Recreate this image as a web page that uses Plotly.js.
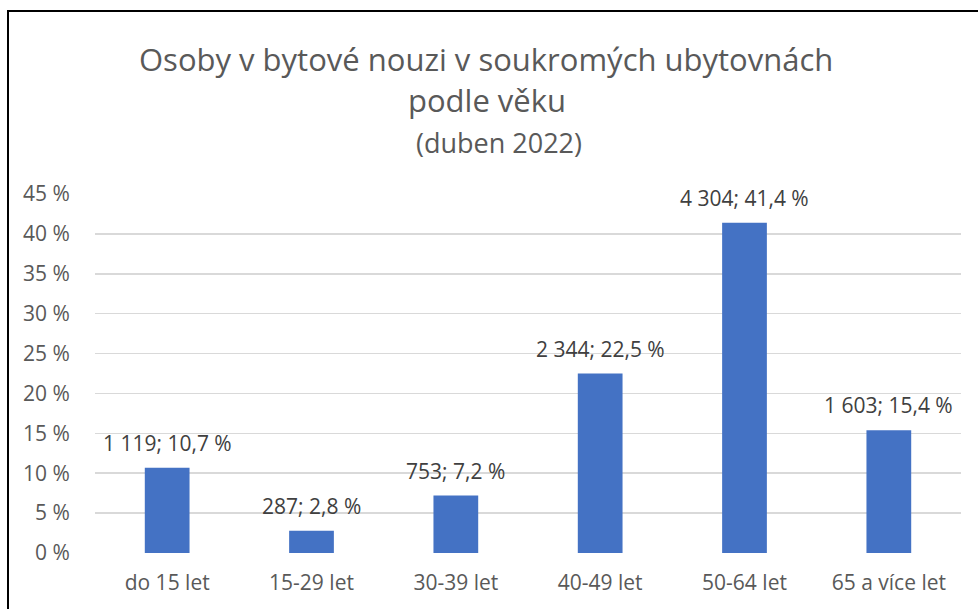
<!DOCTYPE html>
<html>
<head>
<meta charset="utf-8">
<script src="https://cdn.plot.ly/plotly-3.0.1.min.js"></script>
<style>
html,body{margin:0;padding:0;background:#fff;}
#wrap{position:relative;width:978px;height:609px;overflow:hidden;}
#chart{position:absolute;left:0;top:0;width:978px;height:609px;}
#frame{position:absolute;left:7px;top:10px;width:1000px;height:700px;border-left:2px solid #000;border-top:2px solid #000;pointer-events:none;}
</style>
</head>
<body>
<div id="wrap"><div id="chart"></div><div id="frame"></div></div>
<script>
const categories = ["do 15 let", "15-29 let", "30-39 let", "40-49 let", "50-64 let", "65 a více let"];
const counts = [1119, 287, 753, 2344, 4304, 1603];
const shares = [10.7, 2.8, 7.2, 22.5, 41.4, 15.4];
const titleLines = ["Osoby v bytové nouzi v soukromých ubytovnách", "podle věku", "(duben 2022)"];

function fmtCount(n){ return String(n).replace(/\B(?=(\d{3})+(?!\d))/g, "\u00a0"); }
function fmtShare(v){ return v.toFixed(1).replace(".", ",") + "\u00a0%"; }

const FONT = "Open Sans, Lato, sans-serif";
const W = 978, H = 609, L = 95, R = 17, T = 194, B = 56;
const pw = W - L - R, ph = H - T - B;
const px = x => (x - L) / pw;
const py = y => (H - B - y) / ph;

const labelAnn = categories.map((c, i) => ({
  x: c, y: shares[i], xref: "x", yref: "y",
  text: fmtCount(counts[i]) + "; " + fmtShare(shares[i]),
  showarrow: false, yanchor: "bottom", yshift: 9,
  font: {family: FONT, size: 21, color: "#404040"}
}));

const titleAnn = [
  {text: titleLines[0], x: px(486), y: py(59), size: 31},
  {text: titleLines[1], x: px(487), y: py(100), size: 31},
  {text: titleLines[2], x: px(499), y: py(142), size: 27}
].map(a => ({
  x: a.x, y: a.y, xref: "paper", yref: "paper", text: a.text, showarrow: false,
  xanchor: "center", yanchor: "middle",
  font: {family: FONT, size: a.size, color: "#595959"}
}));

const trace = {
  type: "bar", x: categories, y: shares,
  marker: {color: "#4472C4"},
  hoverinfo: "skip"
};

const layout = {
  width: W, height: H,
  margin: {l: L, r: R, t: T, b: B, pad: 0},
  paper_bgcolor: "#fff", plot_bgcolor: "#fff",
  showlegend: false,
  bargap: 0.69,
  font: {family: FONT, color: "#595959"},
  xaxis: {
    type: "category", showgrid: false, zeroline: false, showline: false,
    ticks: "outside", ticklen: 11, tickcolor: "rgba(0,0,0,0)",
    tickfont: {family: FONT, size: 21, color: "#595959"}
  },
  yaxis: {
    range: [0, 45], dtick: 5, tick0: 0, ticksuffix: "\u00a0%",
    showgrid: true, gridcolor: "#D9D9D9", gridwidth: 1.5,
    zeroline: false, showline: false,
    ticks: "outside", ticklen: 20, tickcolor: "rgba(0,0,0,0)",
    tickfont: {family: FONT, size: 21, color: "#595959"}
  },
  annotations: labelAnn.concat(titleAnn)
};

Plotly.newPlot("chart", [trace], layout, {displayModeBar: false, staticPlot: true});
</script>
</body>
</html>
